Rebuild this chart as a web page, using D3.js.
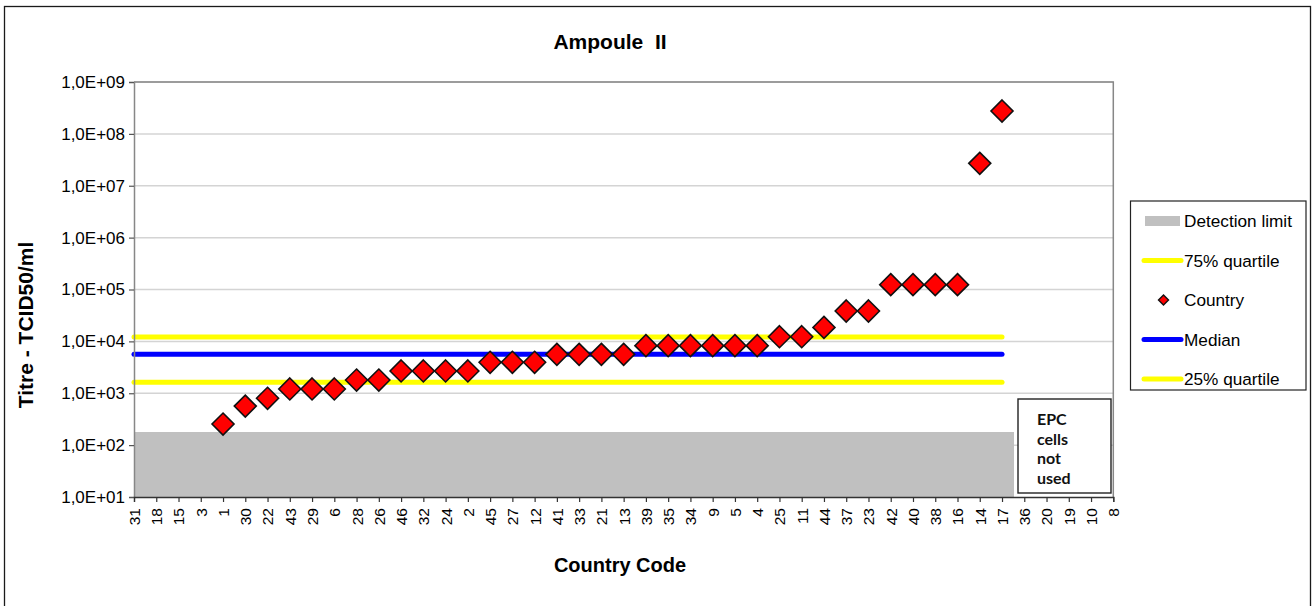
<!DOCTYPE html>
<html>
<head>
<meta charset="utf-8">
<script src="https://cdn.jsdelivr.net/npm/d3@7/dist/d3.min.js"></script>
<style>
  html, body { margin: 0; padding: 0; background: #fff; }
  svg { display: block; font-family: "Liberation Sans", Arial, sans-serif; }
</style>
</head>
<body>
<svg id="chart" width="1314" height="606"></svg>
<script>
// Country codes in plotted order
const countries = ["31","18","15","3","1","30","22","43","29","6","28","26","46","32","24","2","45","27","12","41","33","21","13","39","35","34","9","5","4","25","11","44","37","23","42","40","38","16","14","17","36","20","19","10","8"];

// Titre (TCID50/ml) per country; null = no result
const titres = [null,null,null,null,255,565,800,1210,1210,1210,1800,1800,2690,2690,2690,2690,3950,3950,3950,5620,5620,5620,5620,8260,8260,8260,8260,8260,8260,12300,12300,18600,38500,38500,124000,124000,124000,124000,27000000,276000000,null,null,null,null,null];

// Reference series drawn across the countries that took part
const detectionLimit = countries.map((c, i) => i < 40 ? 181 : null);
const quartile75 = countries.map((c, i) => i < 40 ? 12100 : null);
const medianTitre = countries.map((c, i) => i < 40 ? 5620 : null);
const quartile25 = countries.map((c, i) => i < 40 ? 1630 : null);

const yTicks = [1e1, 1e2, 1e3, 1e4, 1e5, 1e6, 1e7, 1e8, 1e9];
const legendItems = ["Detection limit", "75% quartile", "Country", "Median", "25% quartile"];

const svg = d3.select("#chart");
const L = 134, R = 1113.3, T = 82, B = 497;

const x = d3.scalePoint().domain(countries).range([L, R]).padding(0);
const y = d3.scaleLog().domain([1e1, 1e9]).range([B, T]);
const step = x.step();

const fmt = v => {
  const e = Math.round(Math.log10(v));
  return "1,0E+" + String(e).padStart(2, "0");
};

// outer chart frame
svg.append("rect").attr("x", 4.5).attr("y", 6.5).attr("width", 1306).attr("height", 610)
  .attr("fill", "none").attr("stroke", "#1a1a1a").attr("stroke-width", 1.3);

svg.append("defs").append("clipPath").attr("id", "plotclip")
  .append("rect").attr("x", L).attr("y", T).attr("width", R - L).attr("height", B - T);

// gridlines
svg.append("g").selectAll("line").data(yTicks.slice(1)).join("line")
  .attr("x1", L).attr("x2", R).attr("y1", d => y(d)).attr("y2", d => y(d))
  .attr("stroke", "#d4d4d4").attr("stroke-width", 1.5);

// detection limit band (one column per country, no gaps)
const plot = svg.append("g").attr("clip-path", "url(#plotclip)");
plot.append("g").attr("shape-rendering", "crispEdges").selectAll("rect")
  .data(countries.map((c, i) => ({ c, v: detectionLimit[i] })).filter(d => d.v != null))
  .join("rect")
  .attr("x", d => x(d.c) - step / 2 - 0.5)
  .attr("width", step + 1)
  .attr("y", d => y(d.v))
  .attr("height", d => B - y(d.v))
  .attr("fill", "#c0c0c0");

// plot border (top / right)
svg.append("path").attr("d", `M${L},${T}H${R}V${B}`)
  .attr("fill", "none").attr("stroke", "#878787").attr("stroke-width", 1.5);

// quartile and median lines
const lineGen = d3.line().defined(d => d.v != null).x(d => x(d.c)).y(d => y(d.v));
const series = [
  { vals: quartile75, color: "#ffff00" },
  { vals: quartile25, color: "#ffff00" },
  { vals: medianTitre, color: "#0000ff" }
];
series.forEach(s => {
  svg.append("path")
    .datum(countries.map((c, i) => ({ c, v: s.vals[i] })))
    .attr("d", lineGen)
    .attr("fill", "none").attr("stroke", s.color)
    .attr("stroke-width", 5).attr("stroke-linecap", "round");
});

// y axis
const yAxis = d3.axisLeft(y).tickValues(yTicks).tickFormat(fmt).tickSize(5).tickPadding(4);
const gy = svg.append("g").attr("transform", `translate(${L},0)`).call(yAxis);
gy.select(".domain").attr("stroke", "#878787").attr("stroke-width", 1.5);
gy.selectAll(".tick line").attr("stroke", "#555").attr("stroke-width", 1.2);
gy.selectAll(".tick text").attr("font-size", 17).attr("fill", "#000")
  .attr("font-family", "Liberation Sans, Arial, sans-serif");

// x axis
const xAxis = d3.axisBottom(x).tickSize(5).tickPadding(6);
const gx = svg.append("g").attr("transform", `translate(0,${B})`).call(xAxis);
gx.select(".domain").attr("stroke", "#333").attr("stroke-width", 1.3);
gx.selectAll(".tick line").attr("stroke", "#333").attr("stroke-width", 1.2);
gx.selectAll(".tick text")
  .attr("font-size", 15.5).attr("fill", "#000")
  .attr("font-family", "Liberation Sans, Arial, sans-serif")
  .attr("transform", "rotate(-90)")
  .attr("text-anchor", "end")
  .attr("x", -11).attr("y", 0).attr("dy", "0.35em");

// country markers
const diamond = r => `M0,${-r}L${r},0L0,${r}L${-r},0Z`;
svg.append("g").selectAll("path")
  .data(countries.map((c, i) => ({ c, v: titres[i] })).filter(d => d.v != null))
  .join("path")
  .attr("transform", d => `translate(${x(d.c)},${y(d.v)})`)
  .attr("d", diamond(11))
  .attr("fill", "#ff0000").attr("stroke", "#111").attr("stroke-width", 1.6);

// note box
svg.append("rect").attr("x", 1018).attr("y", 399).attr("width", 93).attr("height", 94)
  .attr("fill", "#fff").attr("stroke", "#222").attr("stroke-width", 1.4);
const note = svg.append("text").attr("font-family", "Lato, 'Open Sans', sans-serif")
  .attr("font-weight", "bold").attr("font-size", 16).attr("fill", "#111");
["EPC", "cells", "not", "used"].forEach((t, i) => {
  note.append("tspan").attr("x", 1037).attr("y", 425 + i * 19.5).text(t);
});

// titles
svg.append("text").attr("x", 610).attr("y", 49).attr("text-anchor", "middle")
  .attr("font-size", 21).attr("font-weight", "bold").attr("xml:space", "preserve")
  .text("Ampoule  II");
svg.append("text").attr("x", 620).attr("y", 572).attr("text-anchor", "middle")
  .attr("font-size", 20).attr("font-weight", "bold").text("Country Code");
svg.append("text").attr("transform", "translate(33,325) rotate(-90)").attr("text-anchor", "middle")
  .attr("font-size", 21).attr("font-weight", "bold").text("Titre - TCID50/ml");

// legend
const lg = svg.append("g");
lg.append("rect").attr("x", 1130.5).attr("y", 201).attr("width", 175.5).attr("height", 189)
  .attr("fill", "#fff").attr("stroke", "#222").attr("stroke-width", 1.2);
legendItems.forEach((name, i) => {
  const cy = 221 + i * 39.5;
  if (i === 0) {
    lg.append("rect").attr("x", 1145).attr("y", cy - 5).attr("width", 35).attr("height", 10).attr("fill", "#c0c0c0");
  } else if (i === 2) {
    lg.append("path").attr("transform", `translate(1163.5,${cy})`).attr("d", diamond(5))
      .attr("fill", "#ff0000").attr("stroke", "#111").attr("stroke-width", 1.4);
  } else {
    lg.append("line").attr("x1", 1144).attr("x2", 1181).attr("y1", cy).attr("y2", cy)
      .attr("stroke", i === 3 ? "#0000ff" : "#ffff00").attr("stroke-width", 5).attr("stroke-linecap", "round");
  }
  lg.append("text").attr("x", 1184).attr("y", cy).attr("dy", "0.36em")
    .attr("font-size", 17.2).attr("fill", "#000").text(name);
});
</script>
</body>
</html>
